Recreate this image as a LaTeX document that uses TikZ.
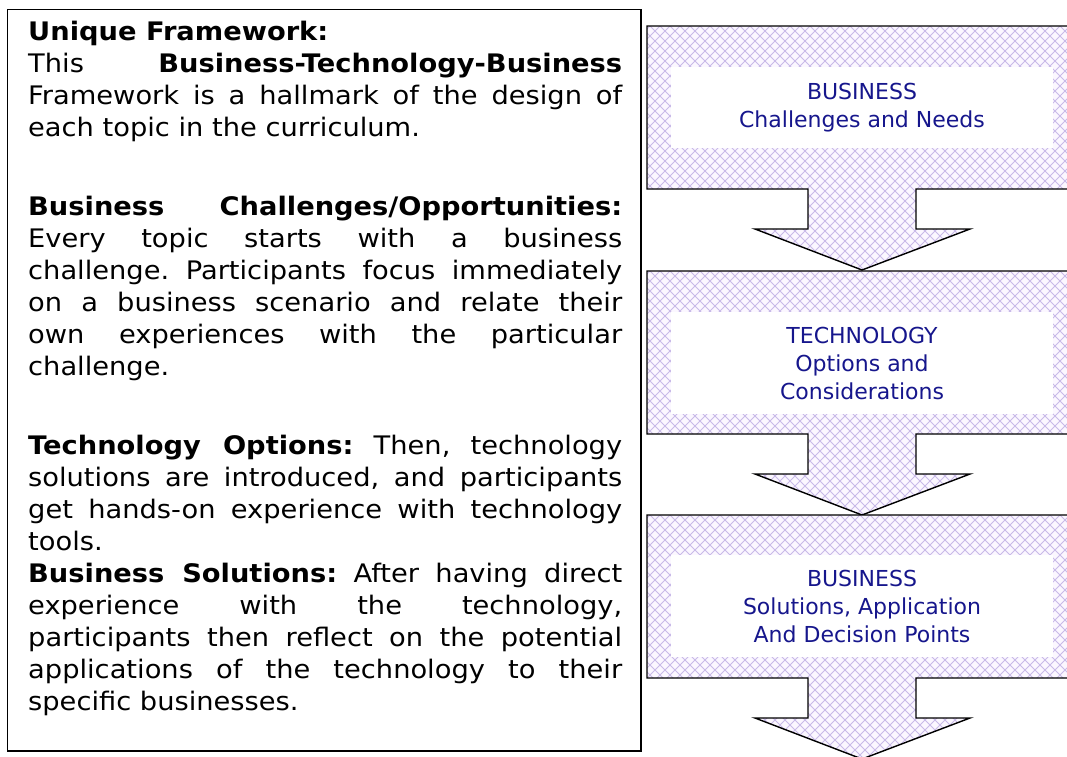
\documentclass[tikz,border=0pt]{standalone}
\usepackage{fontspec}
\setmainfont{DejaVu Sans}[FakeStretch=1.07]
\newfontfamily\stagefont{DejaVu Sans}
\usepackage{tikz}
\usepackage{xcolor}

\definecolor{hatchbg}{RGB}{251,247,255}
\definecolor{hatchline}{RGB}{200,186,232}
\definecolor{stagetext}{RGB}{22,22,140}

\tolerance=10000
\hbadness=10000
\frenchspacing

% one stage: box with a down arrow under it, #1 = top edge
\newcommand{\stagepath}[2]{\path[#2] (647,#1) -- (1080,#1) -- (1080,#1+163) -- (916,#1+163) -- (916,#1+203) -- (970,#1+203) -- (862,#1+244) -- (755,#1+203) -- (808,#1+203) -- (808,#1+163) -- (647,#1+163) -- cycle;}

\tikzset{
    hatch/.style={hatchline, line width=0.9pt},
    stagelabel/.style={fill=white, text=stagetext, align=center, minimum width=382pt, inner sep=0pt, font=\stagefont\fontsize{22}{28}\selectfont},
    blurb/.style={anchor=north west, inner sep=0pt, text width=594pt, align=justify, font=\fontsize{25.5}{32}\selectfont}
}

\begin{document}
\begin{tikzpicture}[x=1pt, y=-1pt]

        \clip (0,0) rectangle (1067,756);
        \fill[white] (0,0) rectangle (1067,756);

        % Draw text frame
        \draw[line width=1.5pt] (7.5,9.5) rectangle (641,751);

        \node[blurb] (framework) at (28,16) {\rule{0pt}{24pt}\textbf{Unique Framework:}\\
            This \textbf{Business-Technology-Business}\linebreak
            Framework is a hallmark of the design of\linebreak
            each topic in the curriculum.\par
            \vspace{47pt}
            \textbf{Business Challenges/Opportunities:}\linebreak
            Every topic starts with a business\linebreak
            challenge. Participants focus immediately\linebreak
            on a business scenario and relate their\linebreak
            own experiences with the particular\linebreak
            challenge.\par
            \vspace{47pt}
            \textbf{Technology Options:} Then, technology\linebreak
            solutions are introduced, and participants\linebreak
            get hands-on experience with technology\linebreak
            tools.\par
            \textbf{Business Solutions:} After having direct\linebreak
            experience with the technology,\linebreak
            participants then reflect on the potential\linebreak
            applications of the technology to their\linebreak
            specific businesses.};

        % Draw hatched stages
        \foreach \t in {26, 271, 515} {
            \stagepath{\t}{fill=hatchbg}
            \begin{scope}
                \stagepath{\t}{clip}
                \foreach \x in {380,390,...,1090} {
                    \draw[hatch] (\x,\t) -- ++(260,260);
                    \draw[hatch] (\x+260,\t) -- ++(-260,260);
                }
            \end{scope}
            \stagepath{\t}{draw=black, line width=1.4pt}
        }

        % Draw stage labels
        \node[stagelabel, minimum height=81pt] (needs) at (862,107.5) {BUSINESS\\Challenges and Needs};
        \node[stagelabel, minimum height=102pt] (options) at (862,363) {TECHNOLOGY\\Options and\\Considerations};
        \node[stagelabel, minimum height=102pt] (solutions) at (862,606) {BUSINESS\\Solutions, Application\\And Decision Points};

\end{tikzpicture}
\end{document}
